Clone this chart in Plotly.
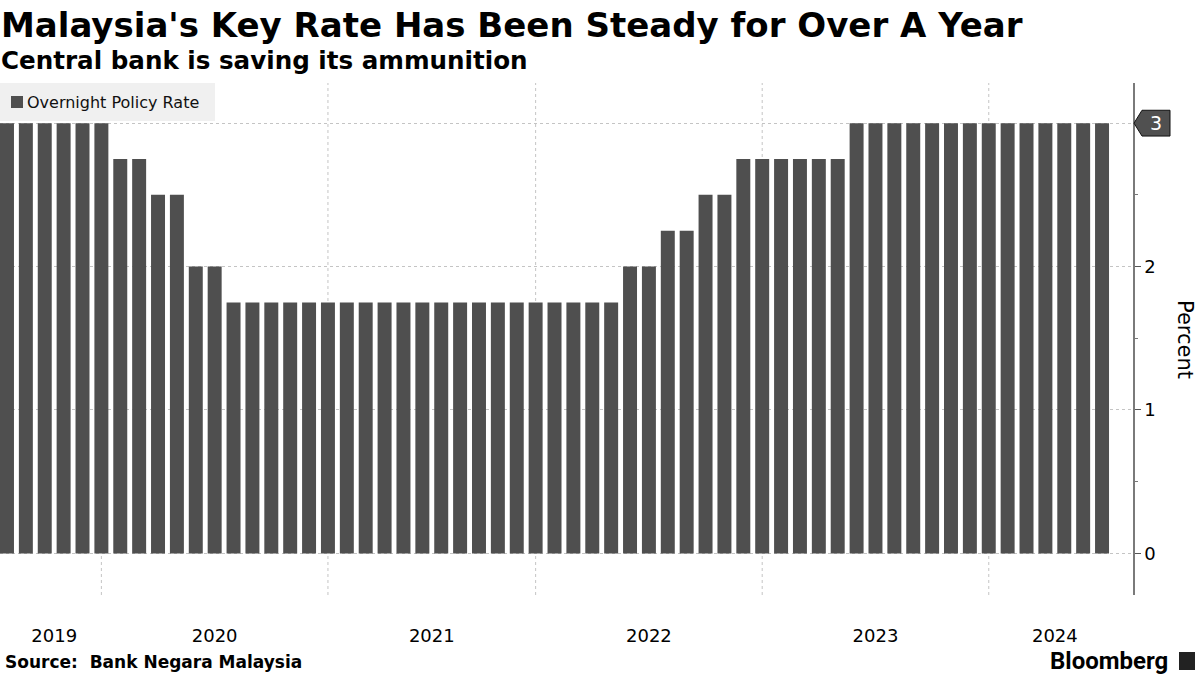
import plotly.graph_objects as go

# ---- data ----
months = [
    "2019-07", "2019-08", "2019-09", "2019-10", "2019-11", "2019-12",
    "2020-01", "2020-02", "2020-03", "2020-04", "2020-05", "2020-06",
    "2020-07", "2020-08", "2020-09", "2020-10", "2020-11", "2020-12",
    "2021-01", "2021-02", "2021-03", "2021-04", "2021-05", "2021-07",
    "2021-08", "2021-09", "2021-10", "2021-11", "2021-12",
    "2022-01", "2022-02", "2022-03", "2022-04", "2022-05", "2022-06",
    "2022-07", "2022-08", "2022-09", "2022-10", "2022-11", "2022-12",
    "2023-01", "2023-02", "2023-03", "2023-04", "2023-05", "2023-06",
    "2023-07", "2023-08", "2023-09", "2023-10", "2023-11", "2023-12",
    "2024-01", "2024-02", "2024-03", "2024-04", "2024-05", "2024-06",
]
opr = [
    3.00, 3.00, 3.00, 3.00, 3.00, 3.00,
    2.75, 2.75, 2.50, 2.50, 2.00, 2.00,
    1.75, 1.75, 1.75, 1.75, 1.75, 1.75,
    1.75, 1.75, 1.75, 1.75, 1.75, 1.75,
    1.75, 1.75, 1.75, 1.75, 1.75,
    1.75, 1.75, 1.75, 1.75, 2.00, 2.00,
    2.25, 2.25, 2.50, 2.50, 2.75, 2.75,
    2.75, 2.75, 2.75, 2.75, 3.00, 3.00,
    3.00, 3.00, 3.00, 3.00, 3.00, 3.00,
    3.00, 3.00, 3.00, 3.00, 3.00, 3.00,
]
series_name = "Overnight Policy Rate"
year_labels = ["2019", "2020", "2021", "2022", "2023", "2024"]
y_ticks = [0, 1, 2, 3]
y_ticktext = ["0", "1", "2", ""]
last_value_label = "3"

# ---- derived positions (category indices) ----
years = [m[:4] for m in months]
last_idx = {y: max(i for i, v in enumerate(years) if v == y) for y in year_labels}
first_idx = {y: min(i for i, v in enumerate(years) if v == y) for y in year_labels}
bounds = [first_idx[year_labels[0]]] + [last_idx[y] for y in year_labels[:-1]] + [len(months)]
year_pos = [(bounds[k] + bounds[k + 1]) / 2 for k in range(len(year_labels))]
year_end_pos = [last_idx[y] for y in year_labels[:-1]]

BAR = "#4f4f4f"
GRID = "#c4c4c4"
FONT = "DejaVu Sans"

fig = go.Figure()
fig.add_trace(go.Bar(
    x=months, y=opr, name=series_name,
    marker=dict(color=BAR, line=dict(width=0)),
    hoverinfo="skip", showlegend=False,
))

W, H = 1200, 675
L, R, T, B = 0, 67, 83, 80
pw = W - L - R
ph = H - T - B

def px_x(p):
    return (p - L) / pw

def px_y(p):
    return (H - B - p) / ph

shapes = []
for xv in year_end_pos:
    shapes.append(dict(type="line", xref="x", yref="paper", x0=xv, x1=xv, y0=0, y1=1,
                       line=dict(color=GRID, width=1, dash="dot"), layer="below"))

# legend box
shapes.append(dict(type="rect", xref="paper", yref="paper",
                   x0=px_x(0), x1=px_x(215), y0=px_y(121), y1=px_y(83),
                   fillcolor="#f0f0f0", line=dict(width=0), layer="above"))
shapes.append(dict(type="rect", xref="paper", yref="paper",
                   x0=px_x(11), x1=px_x(23), y0=px_y(108), y1=px_y(96),
                   fillcolor=BAR, line=dict(width=0), layer="above"))

# last value tag
tip = px_x(1134)
bl = px_x(1142)
br = px_x(1170)
hh = 0.09
shapes.append(dict(type="path", xref="paper", yref="y",
                   path=f"M {tip},3 L {bl},{3+hh} L {br},{3+hh} L {br},{3-hh} L {bl},{3-hh} Z",
                   fillcolor="#505050", line=dict(color="#111111", width=1)))
# Bloomberg icon
shapes.append(dict(type="rect", xref="paper", yref="paper",
                   x0=px_x(1179), x1=px_x(1195), y0=px_y(670), y1=px_y(652),
                   fillcolor="#222222", line=dict(width=0)))

annotations = [
    dict(text="<b>Malaysia's Key Rate Has Been Steady for Over A Year</b>", xref="paper", yref="paper",
         x=px_x(-1), y=px_y(25), xanchor="left", yanchor="middle", showarrow=False,
         font=dict(family=FONT, size=34, color="#000000")),
    dict(text="<b>Central bank is saving its ammunition</b>", xref="paper", yref="paper",
         x=px_x(-1), y=px_y(60), xanchor="left", yanchor="middle", showarrow=False,
         font=dict(family=FONT, size=24.6, color="#000000")),
    dict(text=series_name, xref="paper", yref="paper",
         x=px_x(25), y=px_y(102), xanchor="left", yanchor="middle", showarrow=False,
         font=dict(family=FONT, size=16, color="#111111")),
    dict(text="<b>Source:  Bank Negara Malaysia</b>", xref="paper", yref="paper",
         x=px_x(3), y=px_y(662), xanchor="left", yanchor="middle", showarrow=False,
         font=dict(family=FONT, size=17, color="#000000")),
    dict(text="<b>Bloomberg</b>", xref="paper", yref="paper",
         x=px_x(1170), y=px_y(661), xanchor="right", yanchor="middle", showarrow=False,
         font=dict(family="Roboto", size=24, color="#000000")),
    dict(text="Percent", xref="paper", yref="paper", x=px_x(1185), y=px_y(340),
         xanchor="center", yanchor="middle", textangle=90, showarrow=False,
         font=dict(family=FONT, size=21, color="#000000")),
    dict(text=last_value_label, xref="paper", yref="y", x=px_x(1156), y=3,
         xanchor="center", yanchor="middle", showarrow=False,
         font=dict(family=FONT, size=19, color="#ffffff")),
]

fig.update_layout(
    width=W, height=H,
    margin=dict(l=L, r=R, t=T, b=B, autoexpand=False),
    paper_bgcolor="white", plot_bgcolor="white",
    bargap=0.26,
    showlegend=False,
    font=dict(family=FONT, color="#000000"),
    shapes=shapes,
    annotations=annotations,
    xaxis=dict(type="category", range=[-0.37, len(months) + 0.64],
               tickmode="array", tickvals=year_pos, ticktext=year_labels,
               showgrid=False, zeroline=False, showline=False, ticks="",
               ticklabelstandoff=28,
               tickfont=dict(family=FONT, size=18, color="#000000")),
    yaxis=dict(side="right", range=[-0.29, 3.28],
               tickmode="array", tickvals=y_ticks, ticktext=y_ticktext,
               showgrid=True, gridcolor=GRID, griddash="dot", gridwidth=1,
               zeroline=False, showline=True, linecolor="#7a7a7a", linewidth=1.5,
               ticks="outside", ticklen=6, tickcolor="#555555",
               minor=dict(tickmode="linear", tick0=0, dtick=0.5, ticks="outside",
                          ticklen=3, tickcolor="#777777", showgrid=False),
               tickfont=dict(family=FONT, size=18, color="#000000")),
)

fig.write_html("out.html", config={"displayModeBar": False},
               post_script="document.body.style.margin='0';document.body.style.padding='0';document.documentElement.style.overflow='hidden';")
